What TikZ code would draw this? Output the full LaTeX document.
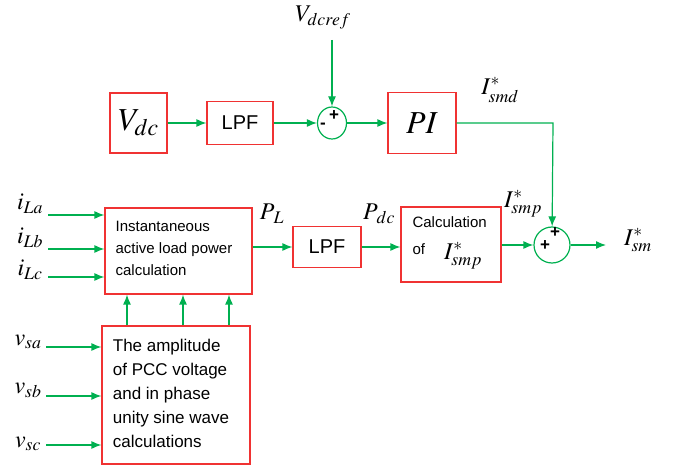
\documentclass[tikz,border=0pt]{standalone}
\usepackage{mathptmx}
\usepackage{fontspec}
\setmainfont{Liberation Sans}
\usetikzlibrary{arrows.meta, positioning, shapes.geometric}
\definecolor{sigGreen}{RGB}{0,176,80}
\definecolor{boxRed}{RGB}{240,50,50}

\begin{document}
\begin{tikzpicture}[x=1pt, y=-1pt, >={Latex[length=10pt, width=8pt]},
    blk/.style={draw=boxRed, line width=1.2pt, inner sep=0pt},
    sumj/.style={draw=sigGreen, ellipse, line width=1.2pt, inner sep=0pt},
    sig/.style={->, draw=sigGreen, line width=1.2pt},
    lbl/.style={font=\fontsize{24}{24}\selectfont, inner sep=1pt},
    txt/.style={align=left, font=\fontsize{15}{22}\selectfont},
    sgn/.style={font=\fontsize{17}{17}\selectfont\bfseries, inner sep=0pt}]
  \useasboundingbox (0,0) rectangle (673,468);
  % dc-link voltage loop
  \node[blk, minimum width=57pt, minimum height=60pt, font=\fontsize{32}{32}\selectfont] (Vdc) at (138.5,123) {$V_{dc}$};
  \node[blk, minimum width=66pt, minimum height=43pt, font=\fontsize{20}{20}\selectfont] (LPFa) at (240,123) {LPF};
  \node[sumj, minimum width=29pt, minimum height=32pt] (Sa) at (332,123) {};
  \node[blk, minimum width=68pt, minimum height=61pt, font=\fontsize{32}{32}\selectfont] (PI) at (422,123) {$PI$};
  \node[lbl] (Vref) at (323,18) {$V_{dcref}$};
  \coordinate (Vrefend) at (332,40);
  \node[sgn] (Sam) at (323,126) {-};
  \node[sgn] (Sap) at (334,116) {+};
  \node[lbl] (Ismd) at (500,90) {$I^{*}_{smd}$};
  \coordinate (PIcorner) at (553,123);
  % load power branch
  \node[blk, minimum width=147pt, minimum height=86pt] (Pinst) at (178.5,251) {};
  \node[txt] (PinstTxt) at (174,248) {Instantaneous\\active load power\\calculation};
  \node[blk, minimum width=68pt, minimum height=41pt, font=\fontsize{20}{20}\selectfont] (LPFb) at (327,247) {LPF};
  \node[blk, minimum width=100pt, minimum height=75pt] (Calc) at (451,244.5) {};
  \node[txt, anchor=west] (CalcTxt) at (409,222) {Calculation};
  \node[txt, anchor=west] (CalcOf) at (409,249) {of};
  \node[lbl] (CalcI) at (463,256) {$I^{*}_{smp}$};
  \node[sumj, minimum width=36pt, minimum height=36pt] (Sb) at (552,245) {};
  \node[sgn] (Sbt) at (555,233) {+};
  \node[sgn] (Sbl) at (545,246) {+};
  \node[lbl] (PL) at (272,214) {$P_{\kern2pt L}$};
  \node[lbl] (Pdc) at (379,214) {$P_{\kern2pt dc}$};
  \node[lbl] (Ismp) at (523,204) {$I^{*}_{smp}$};
  \node[lbl] (Ism) at (638,240) {$I^{*}_{sm}$};
  \coordinate (Out) at (606,245);
  % PCC voltage block
  \node[blk, minimum width=148pt, minimum height=138pt] (Amp) at (176,395) {};
  \node[txt, font=\fontsize{17}{24}\selectfont] (AmpTxt) at (171,393) {The amplitude\\of PCC voltage\\and in phase\\unity sine wave\\calculations};
  % inputs
  \node[lbl] (iLa) at (30,204) {$i_{La}$};
  \node[lbl] (iLb) at (30,238) {$i_{Lb}$};
  \node[lbl] (iLc) at (30,270) {$i_{Lc}$};
  \node[lbl] (vsa) at (28,342) {$v_{sa}$};
  \node[lbl] (vsb) at (28,390) {$v_{sb}$};
  \node[lbl] (vsc) at (28,444) {$v_{sc}$};
  \coordinate (iLaS) at (48,215);
  \coordinate (iLbS) at (48,249);
  \coordinate (iLcS) at (48,277);
  \coordinate (vsaS) at (46,347);
  \coordinate (vsbS) at (46,396);
  \coordinate (vscS) at (46,445);

  \draw[sig] (Vdc) -- (LPFa);
  \draw[sig] (LPFa) -- (Sa);
  \draw[sig] (Vrefend) -- (Sa);
  \draw[sig] (Sa) -- (PI);
  \draw[sig] (PI.east) -- (PIcorner) -- (Sb);
  \draw[sig] (iLaS) -- (iLaS -| Pinst.west);
  \draw[sig] (iLbS) -- (iLbS -| Pinst.west);
  \draw[sig] (iLcS) -- (iLcS -| Pinst.west);
  \draw[sig] (vsaS) -- (vsaS -| Amp.west);
  \draw[sig] (vsbS) -- (vsbS -| Amp.west);
  \draw[sig] (vscS) -- (vscS -| Amp.west);
  \foreach \xx in {127,183,229}
    \draw[sig] (Amp.north -| \xx,0) -- (Pinst.south -| \xx,0);
  \draw[sig] (Pinst.east |- LPFb) -- (LPFb);
  \draw[sig] (LPFb) -- (Calc.west |- LPFb);
  \draw[sig] (Calc.east |- Sb) -- (Sb);
  \draw[sig] (Sb) -- (Out);
\end{tikzpicture}
\end{document}
